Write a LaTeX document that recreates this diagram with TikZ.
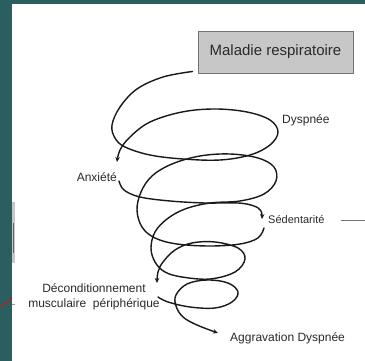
\documentclass[tikz,border=0pt]{standalone}
\usepackage{fontspec}
\setmainfont{Liberation Sans}
\usepackage{tikz}
\usetikzlibrary{arrows.meta,calc}
\definecolor{slideteal}{HTML}{2B5E5F}
\definecolor{tipred}{HTML}{9E2A2B}
\definecolor{inkgrey}{HTML}{2A2A2A}
\tikzset{
  boxed/.style={rectangle, draw=black!55, fill=black!22, line width=0.9pt,
                minimum width=155pt, minimum height=42pt, inner sep=0pt,
                font=\fontsize{15}{17}\selectfont, text=inkgrey},
  lbl/.style={inner sep=0pt, font=\fontsize{12}{15}\selectfont, text=inkgrey},
  spir/.style={line width=1.4pt, draw=black!90, line cap=round},
  ar/.style={spir, -{Stealth[length=5pt,width=4.5pt]}},
}

\begin{document}
\begin{tikzpicture}[x=1pt,y=-1pt]
  \useasboundingbox (0,0) rectangle (365,361);
  \fill[slideteal] (0,0) rectangle (365,361);
  \fill[white] (12,4) rectangle (365,361);
  \fill[black!22] (12,202) rectangle (15,263);
  \draw[black!60, line width=1pt] (13.5,223) -- (13.5,253);
  \draw[tipred, line width=1.3pt] (0,306) -- (12,298);
  \draw[black!40] (12,304) -- (15,304);

  \node[boxed] (mal) at (275.5,52) {Maladie respiratoire};
  \node[lbl, anchor=west] (dys) at (282,120) {Dyspnée};
  \node[lbl, anchor=east] (anx) at (117,177) {Anxiété};
  \node[lbl, anchor=west, font=\fontsize{11}{13}\selectfont] (sed) at (268,220) {Sédentarité};
  \node[lbl, align=center] (dec) at (94,297) {Déconditionnement\\musculaire\ \ périphérique};
  \node[lbl, anchor=west] (agg) at (230,338) {Aggravation Dyspnée};

  \coordinate (anxT) at (117,162);
  \coordinate (sedT) at (262,219);
  \coordinate (decT) at (157,283);
  \coordinate (aggT) at (218,333);

  \draw[black!55, line width=0.8pt] (sed.east) ++(16,0) -- (365,220);

  \draw[ar] plot[smooth, tension=0.6] coordinates {($(mal.south west)+(-5,-2)$) (163,77) (137,89) (120,107) (112,125) (115,138) (125,147) (150,155) (183,159) (220,160) (250,155) (270,145) (278,132) (270,120) (247,112) (215,109) (182,112) (150,122) (130,137) (120,150) (anxT)};
  \draw[ar] plot[smooth, tension=0.6] coordinates {(119,181) (124,190) (140,197) (170,201) (205,203) (238,203) (254,206) (261,211) (sedT)};
  \draw[ar] plot[smooth, tension=0.6] coordinates {(264,228) (258,238) (240,244) (210,246) (177,244) (155,238) (142,227) (137,210) (141,192) (152,176) (172,164) (200,156) (230,154) (258,158) (274,167) (276,181) (264,194) (240,201) (210,203) (185,209) (167,219) (155,232) (151,248) (155,262) (165,272) (182,277) (210,279) (235,272) (245,259) (238,248) (215,242) (192,243) (175,250) (163,262) (158,272) (decT)};
  \draw[ar] plot[smooth, tension=0.6] coordinates {(158,297) (168,302) (190,307) (215,308) (232,302) (238,292) (228,283) (207,280) (187,284) (176,295) (176,306) (183,317) (197,325) (aggT)};
\end{tikzpicture}
\end{document}
